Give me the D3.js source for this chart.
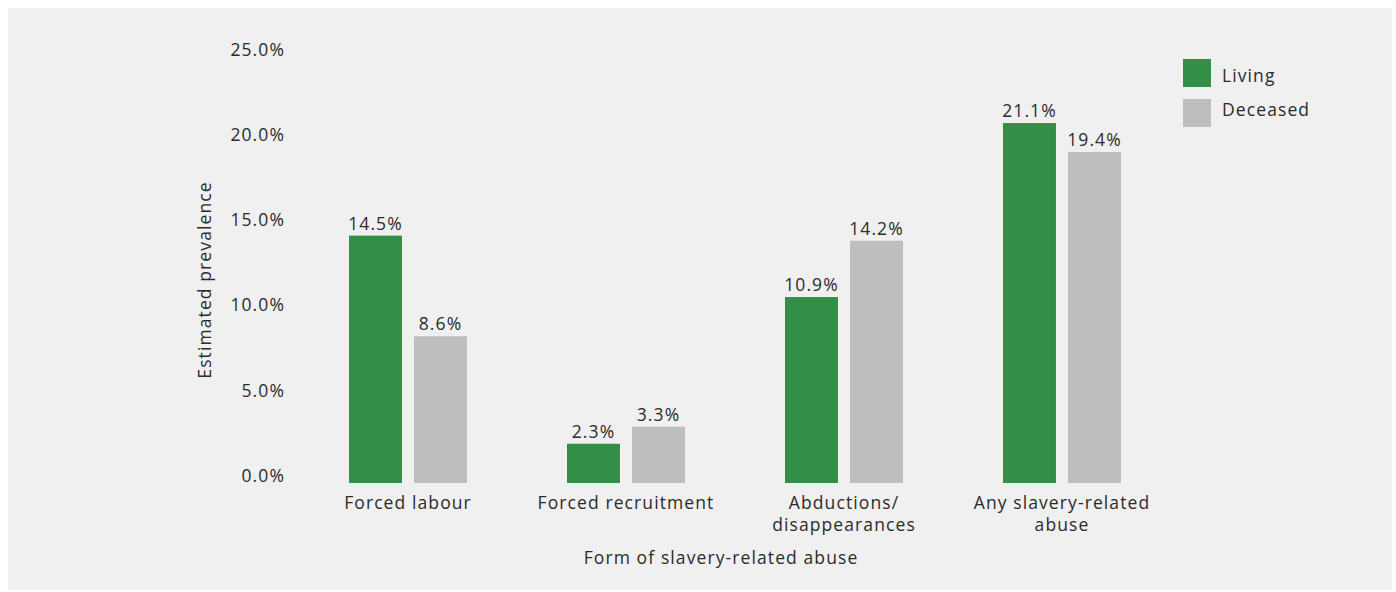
<!DOCTYPE html>
<html>
<head>
<meta charset="utf-8">
<script src="https://cdn.jsdelivr.net/npm/d3@7"></script>
<style>
  body { margin: 0; background: #fff; }
  svg text { font-family: "Open Sans", "Lato", sans-serif; fill: #2b2b2b; letter-spacing: 1.1px; }
</style>
</head>
<body>
<svg id="chart" width="1396" height="592"></svg>
<script>
const categories = [['Forced labour'], ['Forced recruitment'], ['Abductions/', 'disappearances'], ['Any slavery-related', 'abuse']]
const series = ['Living', 'Deceased']
const living = [14.5, 2.3, 10.9, 21.1]
const deceased = [8.6, 3.3, 14.2, 19.4]
const yTicks = [0, 5, 10, 15, 20, 25]
const colors = ['#338f47', '#bdbec0']

const svg = d3.select('#chart')
svg.append('rect')
  .attr('x', 8).attr('y', 8).attr('width', 1384).attr('height', 582)
  .style('fill', '#eff0ef')

const y = d3.scaleLinear().domain([0, 25]).range([483, 56.5])
const x0 = d3.scaleBand().domain(d3.range(categories.length)).range([299, 1171]).padding(0)
const x1 = d3.scaleBand().domain(series).range([50, 168]).paddingInner(0.185)

// y tick labels
svg.append('g').selectAll('text').data(yTicks).enter().append('text')
  .attr('x', 285)
  .attr('y', d => y(d) - 1)
  .attr('text-anchor', 'end')
  .style('font-size', '17.5px')
  .text(d => d.toFixed(1) + '%')

svg.append('text')
  .attr('transform', 'translate(211, 280) rotate(-90)')
  .attr('text-anchor', 'middle')
  .style('font-size', '17.5px')
  .text('Estimated prevalence')

const groups = svg.append('g').selectAll('g').data(categories).enter().append('g')
  .attr('transform', (d, i) => `translate(${x0(i)}, 0)`)

groups.each(function (cat, i) {
  const g = d3.select(this)
  const vals = [living[i], deceased[i]]
  series.forEach((s, j) => {
    g.append('rect')
      .attr('x', x1(s))
      .attr('y', y(vals[j]))
      .attr('width', x1.bandwidth())
      .attr('height', y(0) - y(vals[j]))
      .style('fill', colors[j])
    g.append('text')
      .attr('x', x1(s) + x1.bandwidth() / 2)
      .attr('y', y(vals[j]) - 6)
      .attr('text-anchor', 'middle')
      .style('font-size', '17.5px')
      .text(vals[j].toFixed(1) + '%')
  })
  g.append('text')
    .attr('x', x0.bandwidth() / 2)
    .attr('y', 509)
    .attr('text-anchor', 'middle')
    .style('font-size', '17.5px')
    .selectAll('tspan').data(cat).enter().append('tspan')
      .attr('x', x0.bandwidth() / 2)
      .attr('dy', (d, k) => k === 0 ? 0 : 22)
      .text(d => d)
})

svg.append('text')
  .attr('x', 721)
  .attr('y', 564)
  .attr('text-anchor', 'middle')
  .style('font-size', '17.5px')
  .text('Form of slavery-related abuse')

// legend
const legend = svg.append('g').selectAll('g').data(series).enter().append('g')
  .attr('transform', (d, i) => `translate(1183, ${59 + i * 40})`)
legend.append('rect')
  .attr('width', 28).attr('height', 28)
  .style('fill', (d, i) => colors[i])
legend.append('text')
  .attr('x', 39).attr('y', (d, i) => i === 0 ? 23 : 17)
  .style('font-size', '17.5px')
  .text(d => d)
</script>
</body>
</html>
